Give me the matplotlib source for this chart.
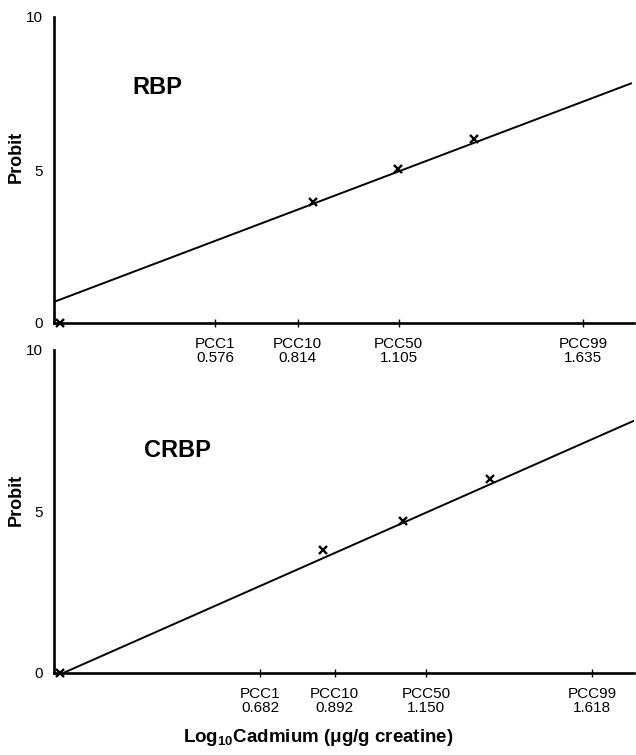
import matplotlib
matplotlib.use("Agg")
import matplotlib.pyplot as plt

plt.rcParams['font.family'] = ['Liberation Sans', 'DejaVu Sans']
plt.rcParams['mathtext.fontset'] = 'custom'
plt.rcParams['mathtext.rm'] = 'Liberation Sans:bold'
plt.rcParams['mathtext.bf'] = 'Liberation Sans:bold'

# ---- data ----
rbp_pcc_names = ["PCC1", "PCC10", "PCC50", "PCC99"]
rbp_pcc_values = [0.576, 0.814, 1.105, 1.635]
rbp_points_x = [0.130, 0.857, 1.104, 1.321]
rbp_points_y = [0.0, 3.95, 5.02, 6.00]
rbp_fit_x = [0.113, 1.776]
rbp_fit_y = [0.69, 7.84]
rbp_xlim = [0.113, 1.782]

crbp_pcc_names = ["PCC1", "PCC10", "PCC50", "PCC99"]
crbp_pcc_values = [0.682, 0.892, 1.150, 1.618]
crbp_points_x = [0.118, 0.859, 1.086, 1.330]
crbp_points_y = [0.0, 3.81, 4.72, 6.00]
crbp_fit_x = [0.127, 1.740]
crbp_fit_y = [0.0, 7.83]
crbp_xlim = [0.101, 1.736]

y_ticks = [0, 5, 10]

W, H = 636, 755
fig = plt.figure(figsize=(W / 100, H / 100), dpi=100)

def make_axes(px_left, px_right, px_bottom, px_top):
    return fig.add_axes([px_left / W, 1 - px_bottom / H,
                         (px_right - px_left) / W, (px_bottom - px_top) / H])

ax1 = make_axes(54, 634, 323, 17)
ax2 = make_axes(54, 634, 673, 350)

panels = [
    (ax1, "RBP", rbp_pcc_names, rbp_pcc_values, rbp_points_x, rbp_points_y,
     rbp_fit_x, rbp_fit_y, rbp_xlim, (0.178, 0.77), 0.542),
    (ax2, "CRBP", crbp_pcc_names, crbp_pcc_values, crbp_points_x, crbp_points_y,
     crbp_fit_x, crbp_fit_y, crbp_xlim, (0.212, 0.69), 0.536),
]

for ax, name, names, vals, px, py, fx, fy, xlim, lab, ylab_y in panels:
    ax.patch.set_alpha(0)
    ax.plot(fx, fy, color='black', lw=1.4, solid_capstyle='butt')
    ax.plot(px, py, linestyle='none', marker='x', color='black',
            markersize=6, markeredgewidth=1.7, clip_on=False, zorder=5)
    ax.set_xlim(xlim)
    ax.set_ylim(0, 10)
    for s in ['top', 'right']:
        ax.spines[s].set_visible(False)
    for s in ['left', 'bottom']:
        ax.spines[s].set_linewidth(1.9)
    ax.set_xticks(vals)
    ax.set_xticklabels([f"{n}\n{v:.3f}" for n, v in zip(names, vals)],
                       fontsize=11, linespacing=1.0)
    ax.tick_params(axis='x', direction='inout', length=6, width=1.0, pad=7)
    ax.set_yticks(y_ticks)
    ax.set_yticklabels([str(t) for t in y_ticks], fontsize=11)
    ax.tick_params(axis='y', length=0, pad=8)
    ax.set_ylabel("Probit", fontsize=13, fontweight='bold')
    ax.yaxis.set_label_coords(-0.050, ylab_y)
    ax.text(lab[0], lab[1], name, transform=ax.transAxes, fontsize=17,
            fontweight='bold', ha='center', va='center')

fig.text(0.5, 1 - 738 / H, r"Log$_{\mathbf{10}}$Cadmium ($\mathrm{\mu}$g/g creatine)",
         ha='center', va='center', fontsize=13.5, fontweight='bold')

fig.savefig("out.png", dpi=100, facecolor='white')
